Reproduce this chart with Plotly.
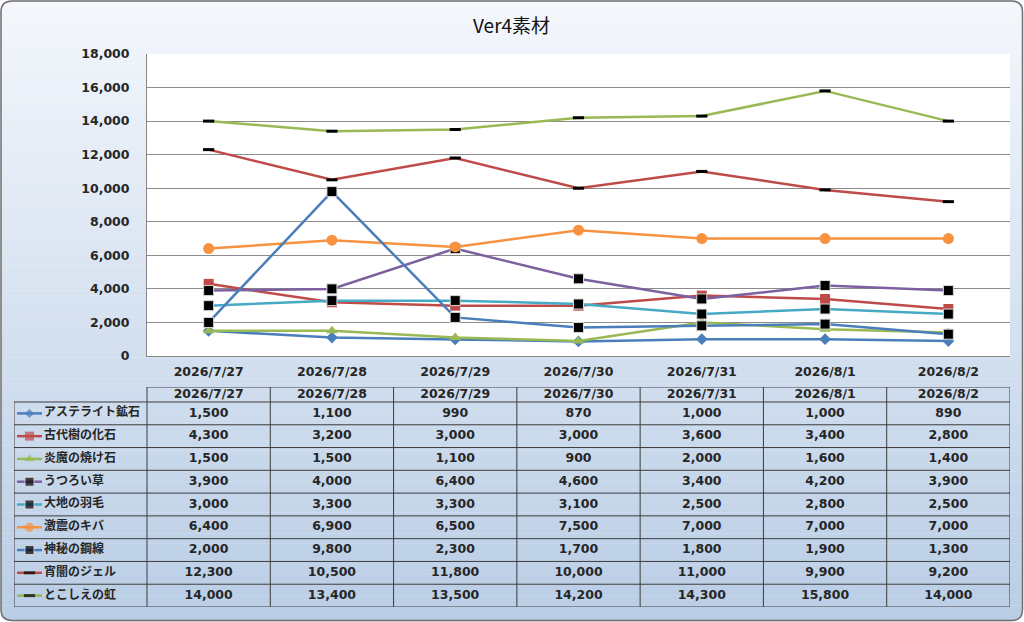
import plotly.graph_objects as go

W, H = 1024, 622

dates = ["2026/7/27", "2026/7/28", "2026/7/29", "2026/7/30", "2026/7/31", "2026/8/1", "2026/8/2"]
names = ["アステライト鉱石", "古代樹の化石", "炎魔の焼け石", "うつろい草", "大地の羽毛",
         "激震のキバ", "神秘の鋼線", "宵闇のジェル", "とこしえの虹"]
astelite = [1500, 1100, 990, 870, 1000, 1000, 890]
kodaiju = [4300, 3200, 3000, 3000, 3600, 3400, 2800]
enma = [1500, 1500, 1100, 900, 2000, 1600, 1400]
utsuroi = [3900, 4000, 6400, 4600, 3400, 4200, 3900]
daichi = [3000, 3300, 3300, 3100, 2500, 2800, 2500]
gekishin = [6400, 6900, 6500, 7500, 7000, 7000, 7000]
shinpi = [2000, 9800, 2300, 1700, 1800, 1900, 1300]
yoiyami = [12300, 10500, 11800, 10000, 11000, 9900, 9200]
tokoshie = [14000, 13400, 13500, 14200, 14300, 15800, 14000]
series_values = [astelite, kodaiju, enma, utsuroi, daichi, gekishin, shinpi, yoiyami, tokoshie]
y_ticks = list(range(0, 18001, 2000))

line_colors = ["#4A7EBB", "#BE4B48", "#98B954", "#7D60A0", "#46AAC5", "#F69240", "#4A7EBB", "#BE4B48", "#98B954"]
marker_styles = [
    dict(symbol="diamond", size=9, color="#4A7EBB", line=dict(width=0)),
    dict(symbol="square", size=10, color="#BE4B48", line=dict(width=0)),
    dict(symbol="triangle-up", size=10, color="#98B954", line=dict(width=0)),
    dict(symbol="square", size=10, color="black", line=dict(width=1, color="#d9d9d9")),
    dict(symbol="square", size=10, color="black", line=dict(width=1, color="#d9d9d9")),
    dict(symbol="circle", size=11, color="#F69240", line=dict(width=0)),
    dict(symbol="square", size=10, color="black", line=dict(width=1, color="#d9d9d9")),
    dict(symbol="line-ew", size=8, color="black", line=dict(width=3, color="black")),
    dict(symbol="line-ew", size=8, color="black", line=dict(width=3, color="black")),
]

CJK = "Noto Sans CJK JP"
TXT = "#262626"
NUMF = dict(family="DejaVu Sans, " + CJK, size=12.5, color=TXT, weight="bold")
NAMEF = dict(family=CJK, size=12, color=TXT, weight="bold")

def px(p):
    return p / W

def py(p):
    return 1 - p / H

fig = go.Figure()

for nm, vals, lc, ms in zip(names, series_values, line_colors, marker_styles):
    fig.add_trace(go.Scatter(
        x=dates, y=vals, mode="lines+markers", name=nm,
        line=dict(color=lc, width=2.5), marker=ms,
        xaxis="x", yaxis="y", showlegend=False, cliponaxis=False))

colw = (1010 - 147) / 7
rowh = 22.8
leg_left = -0.5 - (147 - 14) / colw
hdr_top = -0.5 - 15 / rowh

def tx(p):
    return -0.5 + (p - 147) / colw

for i, vals in enumerate(series_values):
    fig.add_trace(go.Scatter(
        x=list(range(len(dates))), y=[i] * len(dates), mode="text",
        text=[f"{v:,}" for v in vals], textfont=NUMF,
        xaxis="x2", yaxis="y2", showlegend=False, hoverinfo="skip", cliponaxis=False))

fig.add_trace(go.Scatter(
    x=list(range(len(dates))), y=[(hdr_top - 0.5) / 2] * len(dates), mode="text",
    text=dates, textfont=NUMF,
    xaxis="x2", yaxis="y2", showlegend=False, hoverinfo="skip", cliponaxis=False))

fig.add_trace(go.Scatter(
    x=[tx(44)] * len(names), y=list(range(len(names))), mode="text",
    text=names, textposition="middle right", textfont=NAMEF,
    xaxis="x2", yaxis="y2", showlegend=False, hoverinfo="skip", cliponaxis=False))

for i, (lc, ms) in enumerate(zip(line_colors, marker_styles)):
    m = dict(ms)
    if m["symbol"] == "line-ew":
        base = 8
    elif m["symbol"] == "diamond":
        base = 7
    else:
        base = 9
    m["size"] = [0, base, 0]
    ln = dict(m["line"])
    ln["width"] = [0, ln.get("width", 0), 0]
    m["line"] = ln
    fig.add_trace(go.Scatter(
        x=[tx(17), tx(29.5), tx(42)], y=[i, i, i], mode="lines+markers",
        line=dict(color=lc, width=2.5), marker=m,
        xaxis="x2", yaxis="y2", showlegend=False, hoverinfo="skip", cliponaxis=False))

shapes = []
top = (244, 247, 252)
bot = (185, 205, 229)
N = 120
for k in range(N):
    t = (k + 0.5) / N
    c = tuple(round(top[j] + (bot[j] - top[j]) * t) for j in range(3))
    shapes.append(dict(type="rect", xref="paper", yref="paper", layer="below",
                       x0=px(1), x1=px(1023), y0=py(1 + 620 * (k + 1) / N + 0.3), y1=py(1 + 620 * k / N),
                       fillcolor="rgb(%d,%d,%d)" % c, line=dict(width=0)))

r = 11
L, R, T, B = 1, 1022.5, 1, 620.5
def P(x, y):
    return f"{px(x):.5f},{py(y):.5f}"
masks = [
    f"M{P(0,0)} L{P(L+r,0)} L{P(L+r,T)} Q{P(L,T)} {P(L,T+r)} L{P(0,T+r)} Z",
    f"M{P(W,0)} L{P(R-r,0)} L{P(R-r,T)} Q{P(R,T)} {P(R,T+r)} L{P(W,T+r)} Z",
    f"M{P(0,H)} L{P(L+r,H)} L{P(L+r,B)} Q{P(L,B)} {P(L,B-r)} L{P(0,B-r)} Z",
    f"M{P(W,H)} L{P(R-r,H)} L{P(R-r,B)} Q{P(R,B)} {P(R,B-r)} L{P(W,B-r)} Z",
]
for mp in masks:
    shapes.append(dict(type="path", xref="paper", yref="paper", layer="below", path=mp,
                       fillcolor="white", line=dict(width=0)))
border = (f"M{P(L+r,T)} L{P(R-r,T)} Q{P(R,T)} {P(R,T+r)} L{P(R,B-r)} Q{P(R,B)} {P(R-r,B)} "
          f"L{P(L+r,B)} Q{P(L,B)} {P(L,B-r)} L{P(L,T+r)} Q{P(L,T)} {P(L+r,T)} Z")
shapes.append(dict(type="path", xref="paper", yref="paper", layer="above", path=border,
                   line=dict(color="#6e6e6e", width=1.5)))

shapes.append(dict(type="rect", xref="paper", yref="paper", layer="below",
                   x0=px(147), x1=px(1010), y0=py(356), y1=py(54),
                   fillcolor="white", line=dict(width=0)))

tl = dict(color="#3c3c3c", width=1)
n = len(names)
shapes.append(dict(type="line", xref="x2", yref="y2", x0=-0.5, x1=6.5, y0=hdr_top, y1=hdr_top, line=tl))
for i in range(n + 1):
    yy = i - 0.5
    shapes.append(dict(type="line", xref="x2", yref="y2", x0=leg_left, x1=6.5, y0=yy, y1=yy, line=tl))
shapes.append(dict(type="line", xref="x2", yref="y2", x0=leg_left, x1=leg_left, y0=-0.5, y1=n - 0.5, line=tl))
for c in range(len(dates) + 1):
    xx = c - 0.5
    shapes.append(dict(type="line", xref="x2", yref="y2", x0=xx, x1=xx, y0=hdr_top, y1=n - 0.5, line=tl))

fig.update_layout(
    width=W, height=H, autosize=False,
    margin=dict(l=0, r=0, t=0, b=0, pad=0, autoexpand=False),
    paper_bgcolor="white", plot_bgcolor="white",
    font=NUMF,
    shapes=shapes,
    xaxis=dict(domain=[px(147), px(1010)], type="category", range=[-0.5, 6.5], automargin=False,
               showgrid=False, showline=True, linecolor="#868686", linewidth=1,
               ticks="", ticklabelstandoff=4, tickfont=NUMF, fixedrange=True),
    yaxis=dict(domain=[py(356), py(54)], range=[0, 18000], tickvals=y_ticks, automargin=False,
               tickformat=",", showgrid=True, gridcolor="#8c8c8c", gridwidth=1,
               showline=True, linecolor="#868686", linewidth=1, zeroline=False,
               ticks="", ticklabelstandoff=14, tickfont=NUMF, fixedrange=True),
    xaxis2=dict(domain=[px(14), px(1010)], range=[leg_left, 6.5], visible=False, automargin=False,
                anchor="y2", fixedrange=True),
    yaxis2=dict(domain=[py(607), py(387)], range=[n - 0.5, hdr_top], visible=False, automargin=False,
                anchor="x2", fixedrange=True),
    annotations=[dict(text="Ver4素材", x=px(511), y=py(24), xref="paper", yref="paper",
                      xanchor="center", yanchor="middle", showarrow=False,
                      font=dict(family=CJK, size=19, color="#111111", weight="normal"))],
)

post = ("var gd=document.getElementById('{plot_id}');"
        "document.body.style.margin='0';document.body.style.overflow='hidden';"
        "gd.style.position='absolute';gd.style.left='0px';gd.style.top='0px';")
fig.write_html("out.html", post_script=post, config={"displayModeBar": False})
